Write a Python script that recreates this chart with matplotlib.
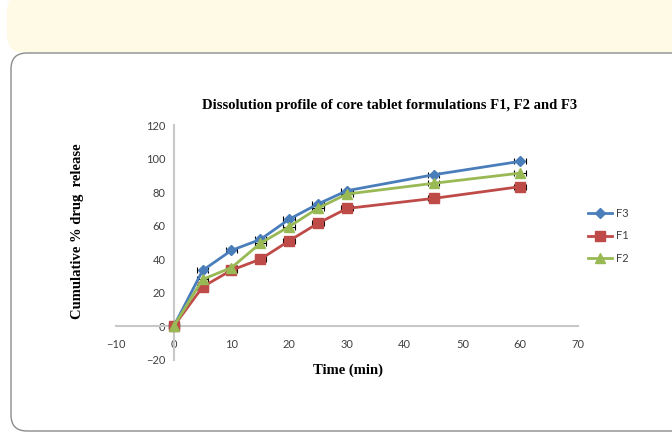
import matplotlib.pyplot as plt
from matplotlib.patches import FancyBboxPatch
from matplotlib.transforms import IdentityTransform

# dissolution data (time in min, cumulative % drug release)
time_min = [0, 5, 10, 15, 20, 25, 30, 45, 60]
f3_release = [0, 33.3, 45.3, 51.8, 63.9, 73.0, 80.9, 90.4, 98.4]
f1_release = [0, 23.5, 33.5, 40.0, 51.0, 61.5, 70.3, 76.3, 83.3]
f2_release = [0, 28.0, 35.0, 49.5, 59.5, 70.5, 78.9, 85.3, 91.4]
# small horizontal error bars seen on the markers
time_err = [0.9, 1.0, 1.0, 1.0, 1.0, 1.0, 1.0, 1.0, 1.0]

x_ticks = [-10, 0, 10, 20, 30, 40, 50, 60, 70]
y_ticks = [-20, 0, 20, 40, 60, 80, 100, 120]

fig = plt.figure(figsize=(6.72, 4.33), dpi=100)

# page decoration: yellow banner and rounded frame (pixel coords)
banner = FancyBboxPatch((7, 380), 720, 60, boxstyle="round,pad=0,rounding_size=18",
                        facecolor="#fffae6", edgecolor="none",
                        transform=IdentityTransform(), zorder=-2)
frame = FancyBboxPatch((11, 2), 720, 378, boxstyle="round,pad=0,rounding_size=16",
                       facecolor="white", edgecolor="#8c8c8c", linewidth=1.0,
                       transform=IdentityTransform(), zorder=-1)
fig.add_artist(banner)
fig.add_artist(frame)

ax = fig.add_axes([0.1726, 0.169, 0.6875, 0.542])
ax.set_facecolor("none")

series = [
    ("F3", f3_release, "#4a7ebb", "D", 5),
    ("F1", f1_release, "#be4b48", "s", 7),
    ("F2", f2_release, "#98b954", "^", 7),
]
for name, vals, col, mk, ms in series:
    ax.errorbar(time_min, vals, xerr=time_err, fmt="none", ecolor="black",
                elinewidth=0.8, capsize=2.5, capthick=0.8, zorder=3)
    ax.plot(time_min, vals, color=col, marker=mk, markersize=ms, linewidth=2,
            label=name, zorder=4)

ax.set_xlim(-10, 70)
ax.set_ylim(-20, 120)
ax.set_xticks(x_ticks)
ax.set_yticks(y_ticks)

# Excel style crossing axes
ax.spines["left"].set_position(("data", 0))
ax.spines["bottom"].set_position(("data", 0))
ax.spines["top"].set_visible(False)
ax.spines["right"].set_visible(False)
for s in ("left", "bottom"):
    ax.spines[s].set_color("#c8c8c8")
    ax.spines[s].set_linewidth(1.5)
ax.tick_params(length=0, labelsize=8, labelcolor="#404040", pad=6)
ax.tick_params(axis="x", pad=9)
for lab in ax.get_xticklabels() + ax.get_yticklabels():
    lab.set_family("Lato")

fig.text(0.580, 1 - 105 / 433, "Dissolution profile of core tablet formulations F1, F2 and F3",
         fontfamily="Liberation Serif", fontweight="bold", fontsize=10.5,
         ha="center", va="center")
fig.text(0.518, 1 - 370 / 433, "Time (min)", fontfamily="Liberation Serif",
         fontweight="bold", fontsize=10.5, ha="center", va="center")
fig.text(0.116, 1 - 231 / 433, "Cumulative % drug  release", fontfamily="Liberation Serif",
         fontweight="bold", fontsize=10.5, rotation=90, ha="center", va="center")

leg = ax.legend(loc="center left", bbox_to_anchor=(1.0, 0.528), frameon=False,
                prop={"family": "Lato", "size": 8}, handlelength=2.2,
                handletextpad=0.3, labelspacing=1.0)
for t in leg.get_texts():
    t.set_color("#404040")

fig.savefig("out.png", dpi=100)
